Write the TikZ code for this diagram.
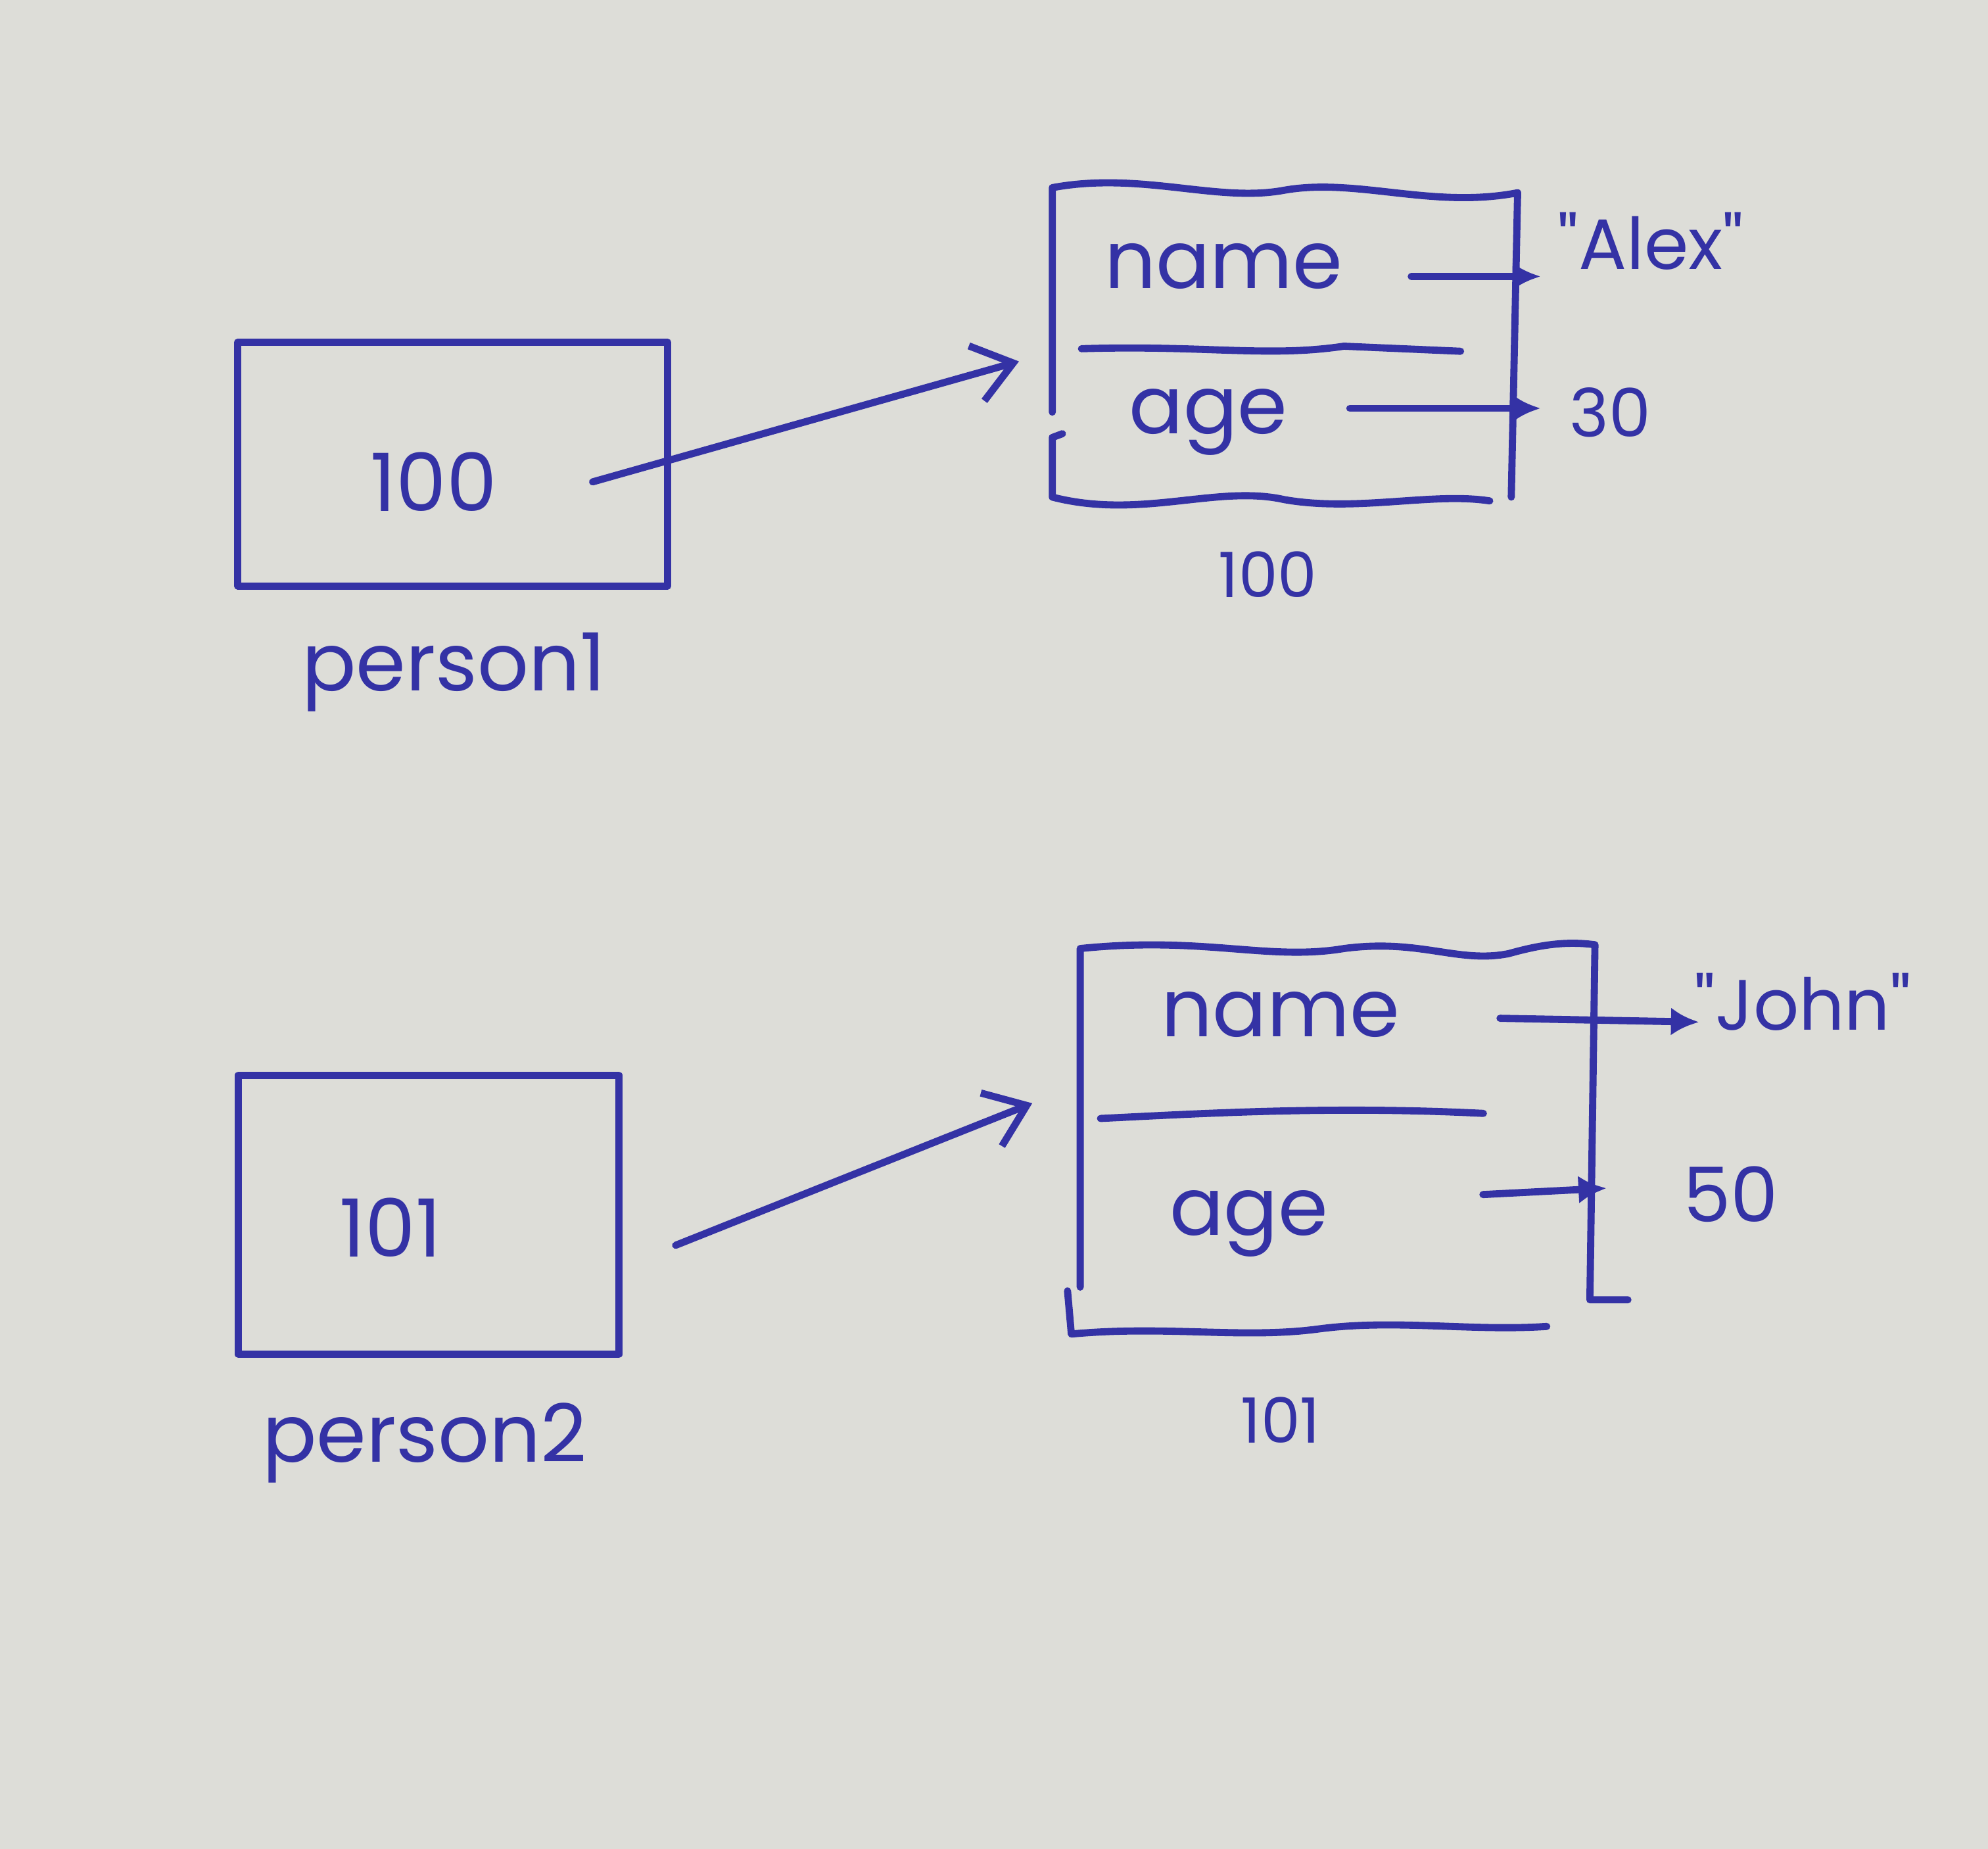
\documentclass[tikz,border=0pt]{standalone}
\usepackage{fontspec}
\setmainfont{Poppins}
\usetikzlibrary{arrows.meta,calc}
\definecolor{paper}{RGB}{221,221,216}
\definecolor{ink}{RGB}{52,50,165}
\tikzset{
  inkline/.style={draw=ink, line width=1.6pt, line cap=round, line join=round},
  ptrbox/.style={inkline, rectangle, inner sep=0pt},
  objbox/.style={rectangle, inner sep=0pt},
  txt/.style={text=ink, inner sep=1pt, font=\fontsize{18}{20}\selectfont},
  smalltxt/.style={text=ink, inner sep=1pt, font=\fontsize{14}{16}\selectfont},
  ptrarrow/.style={inkline, -{Straight Barb[length=3mm,width=4.5mm,line width=1.6pt]}},
  fldarrow/.style={inkline, -{Latex[length=2.2mm,width=2.2mm]}}
}
\begin{document}
\begin{tikzpicture}[x=0.01cm,y=-0.01cm]
\fill[paper] (0,0) rectangle (1568,1458);
\useasboundingbox (0,0) rectangle (1568,1458);

% ---------- person1 ----------
\node[ptrbox, minimum width=3.39cm, minimum height=1.92cm] (p1) at (357,366) {};
\node[txt] (v1) at (342,380) {100};
\node[txt] (l1) at (358,530) {person1};

% object 100
\node[objbox, minimum width=3.67cm, minimum height=2.48cm] (o1) at (1013,272) {};
\draw[inkline] (830,325) -- (830,148)
  .. controls (900,135) and (960,160) .. (1013,150)
  .. controls (1070,140) and (1130,165) .. (1197,152) -- (1192,392);
\draw[inkline] (838,342) -- (830,345) -- (830,392)
  .. controls (900,410) and (960,382) .. (1013,394)
  .. controls (1070,404) and (1130,388) .. (1175,395);
\draw[inkline] (853,275) .. controls (950,272) and (1000,282) .. (1060,273) -- (1152,277);
\node[txt] (n1) at (965,210) {name};
\node[txt] (a1) at (953,333) {age};
\node[smalltxt] (m1) at (1000,453) {100};
\node[txt, font=\fontsize{16}{18}\selectfont] (s1) at (1302,190) {\textquotedbl Alex\textquotedbl};
\node[txt, font=\fontsize{15}{17}\selectfont] (g1) at (1270,325) {30};
\coordinate (t1) at (1215,218);
\coordinate (u1) at (1215,322);

\draw[ptrarrow] ($(p1.east)+(-62,14)$) -- ($(o1.west)+(-25,13)$);
\draw[fldarrow] ($(n1.east)+(50,8)$) -- (t1);
\draw[fldarrow] ($(a1.east)+(45,-11)$) -- (u1);

% ---------- person2 ----------
\node[ptrbox, minimum width=3.00cm, minimum height=2.20cm] (p2) at (338,958) {};
\node[txt] (v2) at (308,968) {101};
\node[txt] (l2) at (335,1138) {person2};

% object 101
\node[objbox, minimum width=4.10cm, minimum height=3.05cm] (o2) at (1053,897) {};
\draw[inkline] (852,1015) -- (852,748)
  .. controls (950,738) and (1000,758) .. (1060,748)
  .. controls (1120,740) and (1150,760) .. (1190,752)
  .. controls (1215,745) and (1235,742) .. (1258,745) -- (1254,1025) -- (1284,1025);
\draw[inkline] (842,1018) -- (845,1052)
  .. controls (920,1045) and (980,1056) .. (1040,1048)
  .. controls (1100,1040) and (1160,1050) .. (1220,1046);
\draw[inkline] (868,882) .. controls (950,878) and (1050,872) .. (1170,878);
\node[txt] (n2) at (1010,800) {name};
\node[txt] (a2) at (985,965) {age};
\node[smalltxt] (m2) at (1010,1120) {101};
\node[txt, font=\fontsize{16}{18}\selectfont] (s2) at (1422,790) {\textquotedbl John\textquotedbl};
\node[txt, font=\fontsize{17}{19}\selectfont] (g2) at (1365,942) {50};
\coordinate (t2) at (1340,806);
\coordinate (u2) at (1267,937);

\draw[ptrarrow] ($(p2.east)+(42,24)$) -- ($(o2.west)+(-33,-27)$);
\draw[fldarrow] ($(n2.east)+(75,3)$) -- (t2);
\draw[fldarrow] ($(a2.east)+(118,-23)$) -- (u2);
\end{tikzpicture}
\end{document}
